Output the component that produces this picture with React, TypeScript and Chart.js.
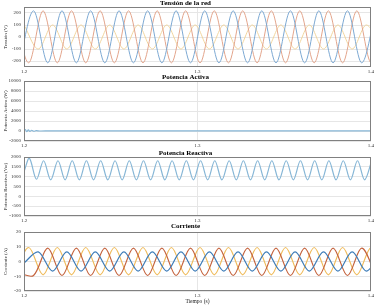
import React, { useEffect, useRef } from "react";
import { Chart, registerables } from "chart.js";
Chart.register(...registerables);

// ---------- data ----------
const xTicks = [1.2, 1.3, 1.4];

// sample times (s) at the extremes of the sinusoids
const tA = [1.1973, 1.2055, 1.2137, 1.2219, 1.2302, 1.2384, 1.2466, 1.2548, 1.2631, 1.2713, 1.2795, 1.2877, 1.2960, 1.3042, 1.3124, 1.3206, 1.3289, 1.3371, 1.3453, 1.3536, 1.3618, 1.3700, 1.3782, 1.3865, 1.3947, 1.4029];
const tB = [1.1945, 1.2027, 1.2110, 1.2192, 1.2274, 1.2356, 1.2439, 1.2521, 1.2603, 1.2686, 1.2768, 1.2850, 1.2932, 1.3015, 1.3097, 1.3179, 1.3261, 1.3344, 1.3426, 1.3508, 1.3590, 1.3673, 1.3755, 1.3837, 1.3919, 1.4002, 1.4084];
const tC = [1.2000, 1.2082, 1.2165, 1.2247, 1.2329, 1.2411, 1.2494, 1.2576, 1.2658, 1.2740, 1.2823, 1.2905, 1.2987, 1.3069, 1.3152, 1.3234, 1.3316, 1.3398, 1.3481, 1.3563, 1.3645, 1.3727, 1.3810, 1.3892, 1.3974, 1.4057];

// Tensión de la red (V)
const vBlue = [-215, 218, -215, 218, -215, 218, -215, 218, -215, 218, -215, 218, -215, 218, -215, 218, -215, 218, -215, 218, -215, 218, -215, 218, -215, 218];
const vOrange = [218, -215, 218, -215, 218, -215, 218, -215, 218, -215, 218, -215, 218, -215, 218, -215, 218, -215, 218, -215, 218, -215, 218, -215, 218, -215, 218];
const vYellow = [100, -100, 100, -100, 100, -100, 100, -100, 100, -100, 100, -100, 100, -100, 100, -100, 100, -100, 100, -100, 100, -100, 100, -100, 100, -100];

// Corriente (A)
const iBlue = [-1, 6.5, -6.5, 6.5, -6.5, 6.5, -6.5, 6.5, -6.5, 6.5, -6.5, 6.5, -6.5, 6.5, -6.5, 6.5, -6.5, 6.5, -6.5, 6.5, -6.5, 6.5, -6.5, 6.5, -6.5, 6.5];
const iRed = [-8, -9.5, 9, -9.5, 9, -9.5, 9, -9.5, 9, -9.5, 9, -9.5, 9, -9.5, 9, -9.5, 9, -9.5, 9, -9.5, 9, -9.5, 9, -9.5, 9, -9.5];
const iYellow = [-9, 9.5, -9, 9.5, -9, 9.5, -9, 9.5, -9, 9.5, -9, 9.5, -9, 9.5, -9, 9.5, -9, 9.5, -9, 9.5, -9, 9.5, -9, 9.5, -9, 9.5, -9];

// Potencia Activa (W)
const pTimes = [1.2, 1.2008, 1.2016, 1.2025, 1.2034, 1.2044, 1.2056, 1.207, 1.209, 1.215, 1.4];
const pValues = [0, 300, -150, 250, -100, 150, -50, 60, 0, 20, 20];

// Potencia Reactiva (Var)
const qTimes = [1.2000, 1.2031, 1.2072, 1.2113, 1.2154, 1.2196, 1.2237, 1.2278, 1.2319, 1.2360, 1.2401, 1.2442, 1.2483, 1.2525, 1.2566, 1.2607, 1.2648, 1.2689, 1.2730, 1.2771, 1.2812, 1.2854, 1.2895, 1.2936, 1.2977, 1.3018, 1.3059, 1.3100, 1.3141, 1.3183, 1.3224, 1.3265, 1.3306, 1.3347, 1.3388, 1.3429, 1.3470, 1.3512, 1.3553, 1.3594, 1.3635, 1.3676, 1.3717, 1.3758, 1.3799, 1.3841, 1.3882, 1.3923, 1.3964, 1.4005];
const qValues = [1250, 1930, 870, 1810, 840, 1810, 840, 1810, 840, 1810, 840, 1810, 840, 1810, 840, 1810, 840, 1810, 840, 1810, 840, 1810, 840, 1810, 840, 1810, 840, 1810, 840, 1810, 840, 1810, 840, 1810, 840, 1810, 840, 1810, 840, 1810, 840, 1810, 840, 1810, 840, 1810, 840, 1810, 840, 1810];

const vTicks = [-200, -100, 0, 100, 200];
const pTicks = [-2000, 0, 2000, 4000, 6000, 8000, 10000];
const qTicks = [-1000, -500, 0, 500, 1000, 1500, 2000];
const iTicks = [-20, -10, 0, 10, 20];

// ---------- helpers ----------
const FONT = "'Liberation Serif', 'Times New Roman', serif";
const pts = (t: number[], v: number[]) => t.map((x, i) => ({ x, y: v[i] }));

const boxPlugin = {
  id: "box",
  afterDraw(chart: any) {
    const { ctx, chartArea: a } = chart;
    ctx.save();
    ctx.strokeStyle = "#808080";
    ctx.lineWidth = 1;
    ctx.strokeRect(Math.round(a.left) + 0.5, Math.round(a.top) + 0.5, Math.round(a.right - a.left) - 1, Math.round(a.bottom - a.top) - 1);
    ctx.restore();
  },
};

type PanelProps = {
  top: number;
  height: number;
  title: string;
  yTitle: string;
  yMin: number;
  yMax: number;
  yTicks: number[];
  datasets: any[];
  xTitle?: string;
  titlePadBottom?: number;
  xAxisH: number;
};

function Panel(p: PanelProps) {
  const ref = useRef<HTMLCanvasElement>(null);
  useEffect(() => {
    if (!ref.current) return;
    const grid = { color: "#e6e6e6", drawTicks: false, lineWidth: 1 };
    const tickFont = { family: FONT, size: 5 };
    const chart = new Chart(ref.current, {
      type: "line",
      data: { datasets: p.datasets },
      plugins: [boxPlugin],
      options: {
        animation: false,
        responsive: false,
        layout: { padding: { left: 0, right: 5, top: 0, bottom: 0 } },
        elements: { point: { radius: 0 }, line: { tension: 0.33, borderWidth: 1 } },
        plugins: {
          legend: { display: false },
          tooltip: { enabled: false },
          title: {
            display: true,
            text: p.title,
            color: "#000",
            font: { family: FONT, size: 7, weight: "bold", lineHeight: 1 },
            padding: { top: 0, bottom: p.titlePadBottom || 0 },
          },
        },
        scales: {
          x: {
            type: "linear",
            min: 1.2,
            max: 1.4,
            afterBuildTicks: (s: any) => {
              s.ticks = xTicks.map((v) => ({ value: v }));
            },
            afterFit: (s: any) => {
              s.height = p.xAxisH;
            },
            ticks: {
              font: tickFont,
              color: "#333",
              padding: 2,
              maxRotation: 0,
              autoSkip: false,
              callback: (v: any) => Number(v).toFixed(1),
            },
            grid,
            border: { display: false },
            title: p.xTitle
              ? { display: true, text: p.xTitle, color: "#222", font: { family: FONT, size: 5.5 }, padding: { top: 0, bottom: 0 } }
              : { display: false },
          },
          y: {
            type: "linear",
            min: p.yMin,
            max: p.yMax,
            afterBuildTicks: (s: any) => {
              s.ticks = p.yTicks.map((v) => ({ value: v }));
            },
            afterFit: (s: any) => {
              s.width = 24;
            },
            ticks: { font: tickFont, color: "#333", padding: 3, callback: (v: any) => String(v) },
            grid,
            border: { display: false },
            title: { display: true, text: p.yTitle, color: "#222", font: { family: FONT, size: 5 }, padding: { top: 3, bottom: 0 } },
          },
        },
      } as any,
    });
    return () => chart.destroy();
  }, []);
  return (
    <canvas
      ref={ref}
      width={376}
      height={p.height}
      style={{ position: "absolute", left: 0, top: p.top, width: 376, height: p.height }}
    />
  );
}

const line = (data: any[], color: string, width = 1) => ({
  data,
  borderColor: color,
  borderWidth: width,
  pointRadius: 0,
  fill: false,
});

export default function App() {
  return (
    <div style={{ position: "absolute", left: 0, top: 0, width: 376, height: 305, background: "#fff", overflow: "hidden" }}>
      <Panel
        top={0}
        height={76}
        title="Tensión de la red"
        yTitle="Tensión (V)"
        yMin={-250}
        yMax={250}
        yTicks={vTicks}
        xAxisH={9}
        datasets={[
          line(pts(tA, vBlue), "#7da9d3"),
          line(pts(tB, vOrange), "#e3a58c"),
          line(pts(tC, vYellow), "#f1d59e"),
        ]}
      />
      <Panel
        top={74}
        height={76}
        title="Potencia Activa"
        yTitle="Potencia Activa (W)"
        yMin={-2000}
        yMax={10000}
        yTicks={pTicks}
        xAxisH={9}
        datasets={[line(pts(pTimes, pValues), "#86b6d6", 1.2)]}
      />
      <Panel
        top={150}
        height={75}
        title="Potencia Reactiva"
        yTitle="Potencia Reactiva (Var)"
        yMin={-1000}
        yMax={2000}
        yTicks={qTicks}
        xAxisH={9}
        datasets={[line(pts(qTimes, qValues), "#86b6d6", 1.2)]}
      />
      <Panel
        top={223}
        height={82}
        title="Corriente"
        yTitle="Corriente (A)"
        yMin={-20}
        yMax={20}
        yTicks={iTicks}
        xAxisH={14}
        titlePadBottom={2}
        xTitle="Tiempo (s)"
        datasets={[
          line(pts(tC, iBlue), "#3d7cb8", 1.2),
          line(pts(tA, iRed), "#c4623c", 1.2),
          line(pts(tB, iYellow), "#efbb5a", 1.2),
        ]}
      />
    </div>
  );
}
